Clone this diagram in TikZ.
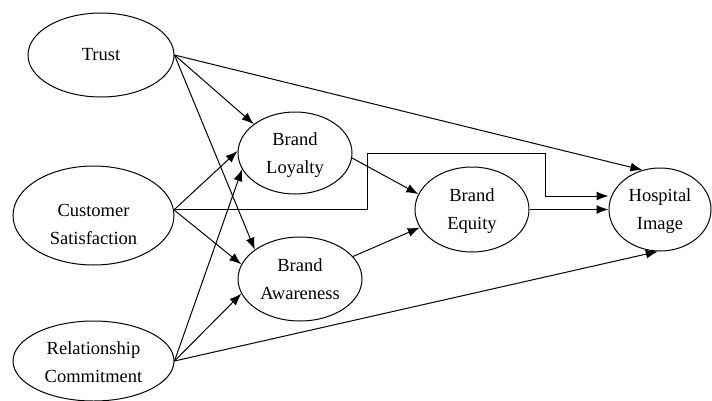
\documentclass[tikz,border=0pt]{standalone}
\usepackage{fontspec}
\setmainfont{Liberation Serif}
\usetikzlibrary{shapes, arrows.meta}

\begin{document}
\begin{tikzpicture}[x=1pt, y=-1pt]
  \tikzstyle{bulle}=[draw, ellipse, line width=1pt, inner sep=0pt]
  \tikzstyle{texte}=[align=center, inner sep=0pt, font=\fontsize{18.5}{28}\selectfont]
  \tikzstyle{fleche}=[-{Latex[length=12pt,width=9pt]}, line width=1pt]
  \useasboundingbox (0,0) rectangle (712,400);
  \node[bulle, minimum width=146pt, minimum height=84pt] (trust) at (101,55) {};
  \node[bulle, minimum width=161pt, minimum height=99pt] (cs) at (93.5,215.5) {};
  \node[bulle, minimum width=161pt, minimum height=80pt] (rc) at (93.5,361) {};
  \node[bulle, minimum width=114pt, minimum height=82pt] (bl) at (295,153) {};
  \node[bulle, minimum width=124pt, minimum height=84pt] (ba) at (300,279) {};
  \node[bulle, minimum width=114pt, minimum height=85pt] (be) at (472,209.5) {};
  \node[bulle, minimum width=102pt, minimum height=83pt] (hi) at (660,209.5) {};
  \node[texte] (trust-t) at (101,55) {Trust};
  \node[texte] (cs-t) at (93.5,224) {Customer\\Satisfaction};
  \node[texte] (rc-t) at (93.5,362) {Relationship\\Commitment};
  \node[texte] (bl-t) at (295,155) {Brand\\Loyalty};
  \node[texte] (ba-t) at (300,279.5) {Brand\\Awareness};
  \node[texte] (be-t) at (472,211.5) {Brand\\Equity};
  \node[texte] (hi-t) at (660,211.5) {Hospital\\Image};
  \draw[fleche] (trust.east) -- (bl.145); \draw[fleche] (trust.east) -- (ba.147);
  \draw[fleche] (trust.east) -- (hi.114);
  \draw[fleche] (cs.4) -- (bl.178); \draw[fleche] (cs.4) -- (ba.166);
  \draw[fleche] (rc.east) -- (bl.197); \draw[fleche] (rc.east) -- (ba.194);
  \draw[fleche] (rc.east) -- (hi.267);
  \draw[fleche] (bl.355) -- (be.164); \draw[fleche] (ba.23) -- (be.199);
  \draw[fleche] (be.east) -- (hi.west);
  \coordinate (coude1) at (367,153); \coordinate (coude2) at (545,196);
  \draw[fleche] (cs.4) -| (coude1) -| (coude2) -- (coude2 -| hi.west);
\end{tikzpicture}
\end{document}
